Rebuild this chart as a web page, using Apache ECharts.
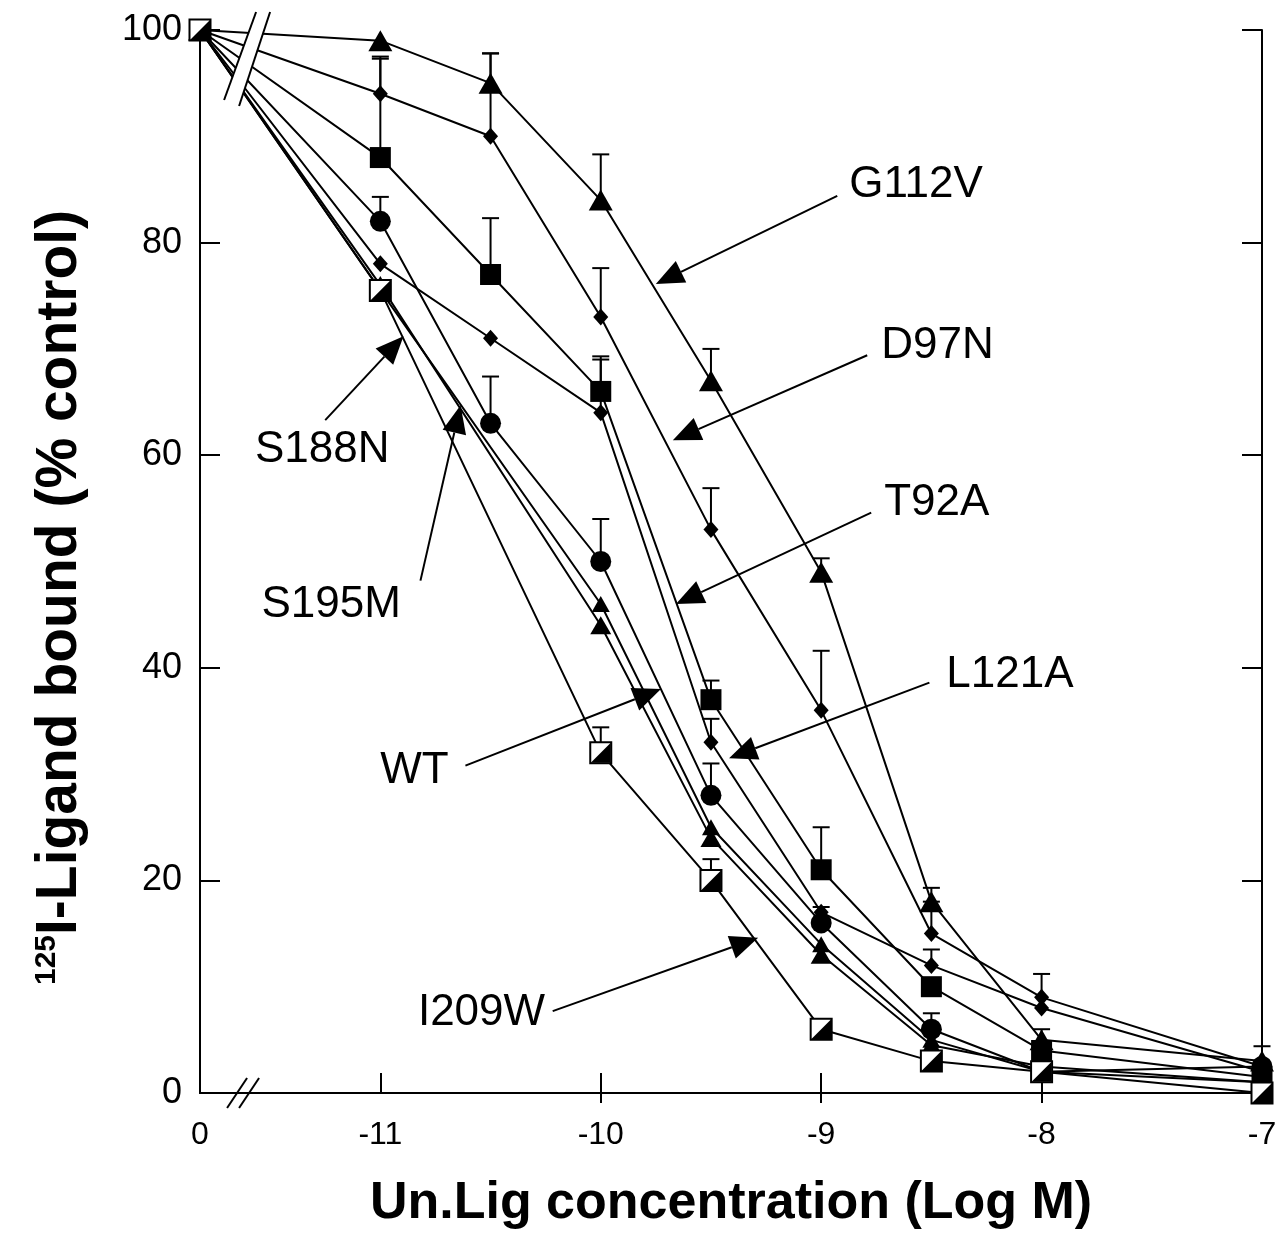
<!DOCTYPE html>
<html><head><meta charset="utf-8">
<script src="https://cdn.jsdelivr.net/npm/echarts@6/dist/echarts.min.js"></script>
<style>html,body{margin:0;padding:0;background:#fff}#c{width:1285px;height:1235px}</style>
</head><body><div id="c"></div>
<script>
// ---- data ----
const concentrations = [0, -11, -10.5, -10, -9.5, -9, -8.5, -8, -7];   // log M (0 = no competitor)
const xTickLabels = ['0', '-11', '-10', '-9', '-8', '-7'];
const yTickValues = [0, 20, 40, 60, 80, 100];

const G112V     = [100, 99, 95, 84, 67, 49, 18, 5, 3];
const G112V_err = [null, null, 2.8, 4.3, 3, 1.3, 1.3, null, 1.4];
const D97N      = [100, 94, 90, 73, 53, 36, 15, 9, 2.5];
const D97N_err  = [null, 3.5, 7.8, 4.6, 3.9, 5.6, 3, 2.2, null];
const T92A      = [100, 88, 77, 66, 37, 21, 10, 4, 1.5];
const T92A_err  = [null, 9.3, 5.3, 3.3, 1.8, 4, null, 2, null];
const L121A     = [100, 78, 71, 64, 33, 17, 12, 8, 2];
const L121A_err = [null, null, null, 5, 2.2, null, 1.5, null, null];
const WT        = [100, 82, 63, 50, 28, 16, 6, 2, 2.5];
const WT_err    = [null, 2.3, 4.4, 4, 3, 1.5, 1.5, null, null];
const S188N     = [100, 75.5, null, 46, 25, 14, 5, 2, 1];
const S188N_err = [null, null, null, null, null, null, null, null, null];
const S195M     = [100, 76, null, 44, 24, 13, 4.5, 2.5, 1];
const S195M_err = [null, null, null, null, null, null, null, null, null];
const I209W     = [100, 75.5, null, 32, 20, 6, 3, 2, 0];
const I209W_err = [null, null, null, 2.4, 2, null, null, null, null];

// ---- layout / style ----
const X_ZERO = -11 - 180 / 220;   // where the "0" (control) column sits on the broken axis
const xTickPositions = [X_ZERO, -11, -10, -9, -8, -7];
const FONT = '"Liberation Sans", Arial, Helvetica, sans-serif';
const xPos = c => (c === 0 ? X_ZERO : c);

const defs = [
  { name: 'G112V', vals: G112V, err: G112V_err, symbol: 'triangle', size: [24, 21] },
  { name: 'D97N',  vals: D97N,  err: D97N_err,  symbol: 'diamond',  size: [15, 17] },
  { name: 'T92A',  vals: T92A,  err: T92A_err,  symbol: 'rect',     size: 21 },
  { name: 'L121A', vals: L121A, err: L121A_err, symbol: 'diamond',  size: [15, 17] },
  { name: 'WT',    vals: WT,    err: WT_err,    symbol: 'circle',   size: 21 },
  { name: 'S188N', vals: S188N, err: S188N_err, symbol: 'triangle', size: [18, 16] },
  { name: 'S195M', vals: S195M, err: S195M_err, symbol: 'triangle', size: [21, 18] },
  { name: 'I209W', vals: I209W, err: I209W_err, symbol: 'rect',     size: 21, half: true }
];

function seriesData(vals) {
  const out = [];
  concentrations.forEach((c, i) => { if (vals[i] != null) out.push([xPos(c), vals[i]]); });
  return out;
}
const errData = [];
defs.forEach(d => concentrations.forEach((c, i) => {
  if (d.vals[i] != null && d.err[i] != null) errData.push([xPos(c), d.vals[i], d.err[i]]);
}));

const series = [];
series.push({
  type: 'custom', name: 'err', z: 1, silent: true,
  encode: { x: 0, y: 1 },
  data: errData,
  renderItem: (params, api) => {
    const x = api.value(0), y = api.value(1), e = api.value(2);
    const p0 = api.coord([x, y]), p1 = api.coord([x, y + e]);
    const w = 8.5;
    return { type: 'group', children: [
      { type: 'line', shape: { x1: p0[0], y1: p0[1], x2: p1[0], y2: p1[1] }, style: { stroke: '#000', lineWidth: 2 } },
      { type: 'line', shape: { x1: p1[0] - w, y1: p1[1], x2: p1[0] + w, y2: p1[1] }, style: { stroke: '#000', lineWidth: 2 } }
    ]};
  }
});
defs.forEach(d => {
  series.push({
    type: 'line', name: d.name, data: seriesData(d.vals), connectNulls: true,
    symbol: d.symbol, symbolSize: d.size, showSymbol: true, z: d.half ? 4 : 2,
    lineStyle: { color: '#000', width: 2 },
    itemStyle: d.half ? { color: '#fff', borderColor: '#000', borderWidth: 2 } : { color: '#000', borderWidth: 0 },
    emphasis: { disabled: true }, silent: true
  });
  if (d.half) {
    series.push({
      type: 'scatter', name: d.name + '-fill', data: seriesData(d.vals), z: 5, silent: true,
      symbol: 'path://M10 0 L10 10 L0 10 Z', symbolSize: 20,
      itemStyle: { color: '#000', opacity: 1 }
    });
  }
});

const axisLineStyle = { color: '#000', width: 2 };
const option = {
  animation: false,
  backgroundColor: '#fff',
  grid: { left: 200, right: 23, top: 30, bottom: 142, containLabel: false, outerBoundsMode: 'none' },
  xAxis: [{
    type: 'value', min: X_ZERO, max: -7, position: 'bottom',
    axisLine: { lineStyle: axisLineStyle },
    axisTick: { inside: true, length: 20, lineStyle: axisLineStyle, customValues: [-11, -10, -9, -8] },
    axisLabel: {
      customValues: xTickPositions, color: '#000', fontSize: 32, fontFamily: FONT, margin: 26,
      formatter: v => { const i = xTickPositions.findIndex(p => Math.abs(p - v) < 1e-6); return i >= 0 ? xTickLabels[i] : ''; }
    },
    splitLine: { show: false },
    name: 'Un.Lig concentration (Log M)', nameLocation: 'middle', nameGap: 85,
    nameTextStyle: { fontSize: 52, fontWeight: 'bold', color: '#000', fontFamily: FONT }
  }, {
    type: 'value', min: X_ZERO, max: -7, position: 'top',
    axisLine: { lineStyle: axisLineStyle },
    axisTick: { inside: true, length: 10, lineStyle: axisLineStyle, customValues: [-10, -9, -8] },
    axisLabel: { show: false }, splitLine: { show: false }
  }],
  yAxis: [{
    type: 'value', min: 0, max: 100, interval: 20, position: 'left',
    axisLine: { lineStyle: axisLineStyle },
    axisTick: { inside: true, length: 20, lineStyle: axisLineStyle },
    axisLabel: { color: '#000', fontSize: 36, fontFamily: FONT, margin: 18,
      formatter: v => (yTickValues.indexOf(v) >= 0 ? String(v) : '') },
    splitLine: { show: false }
  }, {
    type: 'value', min: 0, max: 100, interval: 20, position: 'right',
    axisLine: { show: true, lineStyle: axisLineStyle },
    axisTick: { inside: true, length: 20, lineStyle: axisLineStyle },
    axisLabel: { show: false }, splitLine: { show: false }
  }],
  series: series
};

const chart = echarts.init(document.getElementById('c'));
chart.setOption(option);

// ---- annotations (label text position, arrow start, arrow tip; in data coords) ----
const annotations = [
  { text: 'G112V', t: [-8.873, 85.4], s: [-8.927, 84.4], e: [-9.75, 76.1], align: 'left' },
  { text: 'D97N',  t: [-8.727, 70.3], s: [-8.791, 69.4], e: [-9.673, 61.4], align: 'left' },
  { text: 'T92A',  t: [-8.714, 55.5], s: [-8.773, 54.6], e: [-9.659, 46.0], align: 'left' },
  { text: 'L121A', t: [-8.432, 39.3], s: [-8.509, 38.6], e: [-9.418, 31.5], align: 'left' },
  { text: 'S188N', t: [-11.264, 60.5], s: [-11.25, 63.3], e: [-10.895, 71.2], align: 'center' },
  { text: 'S195M', t: [-11.223, 45.9], s: [-10.818, 48.2], e: [-10.636, 64.7], align: 'center' },
  { text: 'WT',    t: [-10.845, 30.3], s: [-10.614, 30.8], e: [-9.727, 38.0], align: 'center' },
  { text: 'I209W', t: [-10.541, 7.5],  s: [-10.218, 7.7],  e: [-9.286, 14.6], align: 'center' }
];
const px = p => chart.convertToPixel({ gridIndex: 0 }, p);
const g = [];
annotations.forEach(a => {
  const t = px(a.t), s = px(a.s), e = px(a.e);
  const dx = e[0] - s[0], dy = e[1] - s[1], len = Math.hypot(dx, dy);
  const ux = dx / len, uy = dy / len, L = 28, W = 12;
  const bx = e[0] - ux * L, by = e[1] - uy * L;
  g.push({ type: 'line', z: 50, shape: { x1: s[0], y1: s[1], x2: bx, y2: by }, style: { stroke: '#000', lineWidth: 2 } });
  g.push({ type: 'polygon', z: 50, shape: { points: [[e[0], e[1]], [bx - uy * W, by + ux * W], [bx + uy * W, by - ux * W]] }, style: { fill: '#000' } });
  g.push({ type: 'text', z: 50, x: t[0], y: t[1], style: { text: a.text, font: '44px ' + FONT, fill: '#000', align: a.align, verticalAlign: 'middle' } });
});

// axis-break marks
const b0 = px([-11.65, 0]);
[0, 12].forEach(o => g.push({ type: 'line', z: 60, shape: { x1: b0[0] - 10 + o, y1: b0[1] + 15, x2: b0[0] + 10 + o, y2: b0[1] - 15 }, style: { stroke: '#000', lineWidth: 2 } }));
const b1 = px([-11.6, 100]);
const tb = [[b1[0] - 24, b1[1] + 70], [b1[0] + 8, b1[1] - 18], [b1[0] + 22, b1[1] - 18], [b1[0] - 9, b1[1] + 76]];
g.push({ type: 'polygon', z: 60, shape: { points: tb }, style: { fill: '#fff' } });
g.push({ type: 'line', z: 61, shape: { x1: tb[0][0], y1: tb[0][1], x2: tb[1][0], y2: tb[1][1] }, style: { stroke: '#000', lineWidth: 2 } });
g.push({ type: 'line', z: 61, shape: { x1: tb[3][0], y1: tb[3][1], x2: tb[2][0], y2: tb[2][1] }, style: { stroke: '#000', lineWidth: 2 } });

// y-axis title with superscript
const yc = px([X_ZERO, 50]);
g.push({
  type: 'text', z: 50, x: 60, y: yc[1] + 36, rotation: Math.PI / 2,
  style: {
    text: '{s|125}{m|I-Ligand bound (% control)}',
    rich: {
      s: { font: 'bold 30px ' + FONT, fill: '#000', verticalAlign: 'top' },
      m: { font: 'bold 57px ' + FONT, fill: '#000' }
    },
    align: 'center', verticalAlign: 'middle'
  }
});
chart.setOption({ graphic: { elements: g } });
</script>
</body></html>
